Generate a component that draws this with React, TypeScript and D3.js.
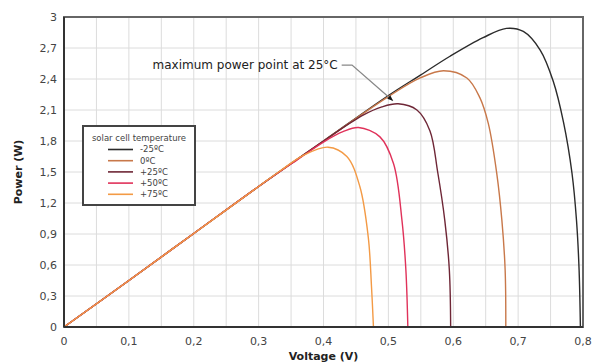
import React from "react";
import * as d3 from "d3";

// P-V curves, [voltage V, power W]
const curveM25 = [
  [0, 0], [0.1, 0.45], [0.2, 0.905], [0.3, 1.36], [0.4, 1.8], [0.5, 2.24],
  [0.55, 2.44], [0.595, 2.62], [0.646, 2.8], [0.682, 2.89], [0.708, 2.86],
  [0.734, 2.68], [0.754, 2.38], [0.77, 1.98], [0.783, 1.49], [0.79, 1.03],
  [0.794, 0.55], [0.796, 0],
];
const curve0 = [
  [0, 0], [0.1, 0.45], [0.2, 0.905], [0.3, 1.36], [0.4, 1.8], [0.5, 2.23],
  [0.549, 2.41], [0.585, 2.48], [0.621, 2.41], [0.641, 2.22], [0.654, 1.97],
  [0.667, 1.49], [0.675, 1.03], [0.68, 0.55], [0.681, 0],
];
const curve25 = [
  [0, 0], [0.1, 0.45], [0.2, 0.905], [0.3, 1.36], [0.4, 1.8], [0.461, 2.05],
  [0.49, 2.13], [0.515, 2.16], [0.544, 2.1], [0.564, 1.9], [0.576, 1.5],
  [0.587, 1.03], [0.594, 0.55], [0.596, 0],
];
const curve50 = [
  [0, 0], [0.1, 0.45], [0.2, 0.905], [0.3, 1.36], [0.36, 1.62], [0.4, 1.79],
  [0.43, 1.89], [0.454, 1.93], [0.487, 1.84], [0.508, 1.58], [0.521, 1.03],
  [0.527, 0.55], [0.53, 0],
];
const curve75 = [
  [0, 0], [0.1, 0.45], [0.2, 0.905], [0.3, 1.36], [0.333, 1.51], [0.369, 1.66],
  [0.407, 1.74], [0.436, 1.65], [0.456, 1.36], [0.469, 0.87], [0.474, 0.39],
  [0.477, 0],
];

const seriesNames = ["-25ºC", "0ºC", "+25ºC", "+50ºC", "+75ºC"];
const seriesData = [curveM25, curve0, curve25, curve50, curve75];
const seriesColors = ["#2b2b2b", "#c8784a", "#6e2636", "#e0325a", "#f39a45"];

const xTicks = [0, 0.1, 0.2, 0.3, 0.4, 0.5, 0.6, 0.7, 0.8];
const xGrid = d3.range(0, 0.8001, 0.05);
const yTicks = [0, 0.3, 0.6, 0.9, 1.2, 1.5, 1.8, 2.1, 2.4, 2.7, 3];

// annotation: text end, elbow, arrow tip (data coords)
const noteText = "maximum power point at 25°C";
const notePath = [[0.428, 2.535], [0.444, 2.535], [0.507, 2.19]];

const fmt = (v: number) => d3.format("~g")(v).replace(".", ",");

export default function App() {
  const margin = { top: 17, right: 17, bottom: 36, left: 64 };
  const width = 600;
  const height = 363;
  const x = d3.scaleLinear().domain([0, 0.8]).range([margin.left, width - margin.right]);
  const y = d3.scaleLinear().domain([0, 3]).range([height - margin.bottom, margin.top]);

  const line = d3
    .line<number[]>()
    .x((d) => x(d[0]))
    .y((d) => y(d[1]))
    .curve(d3.curveCatmullRom.alpha(0.5));

  const font = "'DejaVu Sans', Verdana, sans-serif";
  const [x0, x1] = x.range();
  const [y0, y1] = y.range();

  const noteP = notePath.map((d) => [x(d[0]), y(d[1])]);
  const tip = noteP[2];
  const prev = noteP[1];
  const ang = Math.atan2(tip[1] - prev[1], tip[0] - prev[0]);
  const ah = 6;
  const arrow = [
    [tip[0], tip[1]],
    [tip[0] - ah * Math.cos(ang - 0.4), tip[1] - ah * Math.sin(ang - 0.4)],
    [tip[0] - ah * Math.cos(ang + 0.4), tip[1] - ah * Math.sin(ang + 0.4)],
  ];

  const lg = { x: 83, y: 126, w: 112, h: 79 };

  return (
    <svg
      width={width}
      height={height}
      style={{ position: "absolute", left: 0, top: 0, background: "#fff", fontFamily: font }}
    >
      {/* grid */}
      {xGrid.map((v) => (
        <line key={"gx" + v} x1={x(v)} x2={x(v)} y1={y0} y2={y1} stroke="#dcdcdc" strokeWidth={1} />
      ))}
      {yTicks.map((v) => (
        <line key={"gy" + v} x1={x0} x2={x1} y1={y(v)} y2={y(v)} stroke="#dcdcdc" strokeWidth={1} />
      ))}

      {/* curves */}
      {seriesData.map((d, i) => (
        <path key={seriesNames[i]} d={line(d) || ""} fill="none" stroke={seriesColors[i]} strokeWidth={1.4} />
      ))}

      {/* frame */}
      <rect x={x0} y={y1} width={x1 - x0} height={y0 - y1} fill="none" stroke="#666" strokeWidth={2} />
      <line x1={x0} x2={x0} y1={y1} y2={y0} stroke="#333" strokeWidth={2} />
      <line x1={x0} x2={x1} y1={y0} y2={y0} stroke="#333" strokeWidth={2} />

      {/* ticks */}
      {yTicks.map((v) => (
        <text key={"ty" + v} x={x0 - 7} y={y(v)} dy="0.35em" textAnchor="end" fontSize={11} fill="#444">
          {fmt(v)}
        </text>
      ))}
      {xTicks.map((v) => (
        <text key={"tx" + v} x={x(v)} y={y0 + 14} dy="0.35em" textAnchor="middle" fontSize={11} fill="#444">
          {fmt(v)}
        </text>
      ))}

      {/* axis titles */}
      <text x={(x0 + x1) / 2} y={360} textAnchor="middle" fontSize={11} fontWeight="bold" fill="#222">
        Voltage (V)
      </text>
      <text
        transform={`translate(22,${(y0 + y1) / 2}) rotate(-90)`}
        textAnchor="middle"
        fontSize={11}
        fontWeight="bold"
        fill="#222"
      >
        Power (W)
      </text>

      {/* legend */}
      <rect x={lg.x} y={lg.y} width={lg.w} height={lg.h} fill="#fff" stroke="#444" strokeWidth={2} />
      <text x={lg.x + lg.w / 2} y={lg.y + 12} dy="0.35em" textAnchor="middle" fontSize={8.5} fill="#444">
        solar cell temperature
      </text>
      {seriesNames.map((n, i) => (
        <g key={"lg" + n} transform={`translate(${lg.x + 25},${lg.y + 23.5 + i * 11.2})`}>
          <line x1={0} x2={25} y1={0} y2={0} stroke={seriesColors[i]} strokeWidth={1.6} />
          <text x={32} y={0} dy="0.35em" fontSize={8.5} fill="#444">
            {n}
          </text>
        </g>
      ))}

      {/* annotation */}
      <text x={noteP[0][0] - 4} y={noteP[0][1]} dy="0.35em" textAnchor="end" fontSize={12} fill="#222">
        {noteText}
      </text>
      <path d={d3.line()(noteP as [number, number][]) || ""} fill="none" stroke="#888" strokeWidth={1.3} />
      <path d={d3.line()(arrow as [number, number][]) + "Z"} fill="#111" />
    </svg>
  );
}
